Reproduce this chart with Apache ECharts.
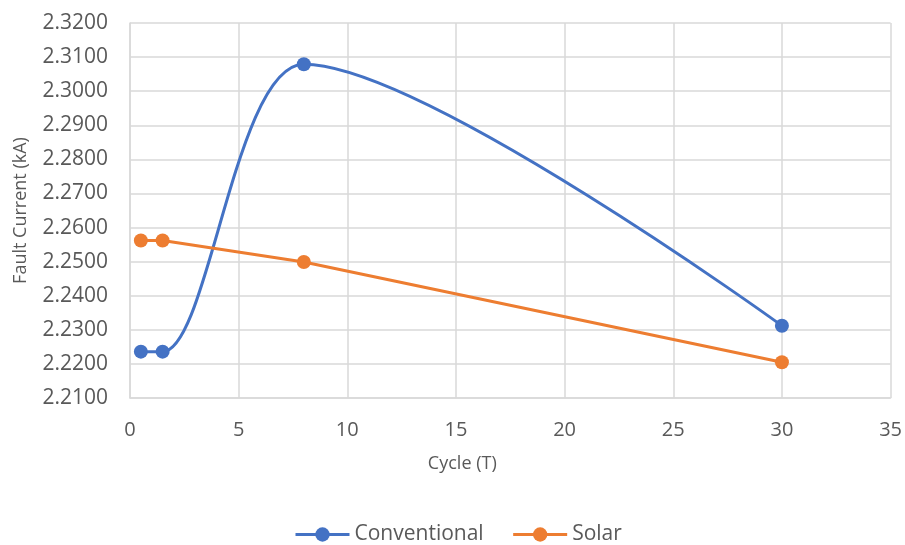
<!DOCTYPE html>
<html>
<head>
<meta charset="utf-8">
<script src="https://cdn.jsdelivr.net/npm/echarts@6/dist/echarts.min.js"></script>
<style>
html,body{margin:0;padding:0;background:#fff;}
#chart{width:905px;height:545px;}
</style>
</head>
<body>
<div id="chart"></div>
<script>
// 周期 (T)
var cycles = [0.5, 1.5, 8, 30];
// 故障电流 (kA)
var conventional = [2.2236, 2.2236, 2.3079, 2.2312];
var solar = [2.2562, 2.2562, 2.2499, 2.2205];

var seriesNames = ['Conventional', 'Solar'];
var seriesColors = ['#4472C4', '#ED7D31'];

function pairs(xs, ys){
	var out = [];
	for (var i = 0; i < xs.length; i++) {
		out.push([xs[i], ys[i]]);
	}
	return out;
}

var textColor = '#595959';
var fontName = 'Open Sans';

var chart = echarts.init(document.getElementById('chart'));
var option = {
	animation: false,
	backgroundColor: '#fff',
	textStyle: {fontFamily: fontName},
	grid: {
		left: 130,
		right: 13,
		top: 23,
		bottom: 147,
		containLabel: false
	},
	legend: {
		data: seriesNames,
		top: 519,
		left: 289,
		itemWidth: 54,
		itemHeight: 18,
		itemGap: 28,
		lineStyle: {width: 3},
		textStyle: {color: textColor, fontSize: 21, fontFamily: fontName}
	},
	xAxis: {
		type: 'value',
		min: 0,
		max: 35,
		interval: 5,
		name: 'Cycle (T)',
		nameLocation: 'middle',
		nameGap: 57,
		nameTextStyle: {color: textColor, fontSize: 18, fontFamily: fontName, padding: [0, 96, 0, 0]},
		axisLine: {show: true, lineStyle: {color: '#D9D9D9', width: 1.5}},
		axisTick: {show: false},
		axisLabel: {color: textColor, fontSize: 20, margin: 22, fontFamily: fontName},
		splitLine: {show: true, lineStyle: {color: '#D9D9D9', width: 1.5}}
	},
	yAxis: {
		type: 'value',
		min: 2.21,
		max: 2.32,
		interval: 0.01,
		name: 'Fault Current (kA)',
		nameLocation: 'middle',
		nameGap: 100,
		nameTextStyle: {color: textColor, fontSize: 18, fontFamily: fontName},
		axisLine: {show: true, lineStyle: {color: '#D9D9D9', width: 1.5}},
		axisTick: {show: false},
		axisLabel: {
			color: textColor,
			fontSize: 21,
			margin: 22,
			fontFamily: fontName,
			formatter: function(v){ return v.toFixed(4); }
		},
		splitLine: {show: true, lineStyle: {color: '#D9D9D9', width: 1.5}}
	},
	series: [
		{
			name: seriesNames[0],
			type: 'line',
			data: pairs(cycles, conventional),
			smooth: 0.3,
			symbol: 'circle',
			symbolSize: 14,
			color: seriesColors[0],
			lineStyle: {width: 3, color: seriesColors[0]},
			itemStyle: {color: seriesColors[0]}
		},
		{
			name: seriesNames[1],
			type: 'line',
			data: pairs(cycles, solar),
			symbol: 'circle',
			symbolSize: 14,
			color: seriesColors[1],
			lineStyle: {width: 3, color: seriesColors[1]},
			itemStyle: {color: seriesColors[1]}
		}
	]
};
chart.setOption(option);
</script>
</body>
</html>
